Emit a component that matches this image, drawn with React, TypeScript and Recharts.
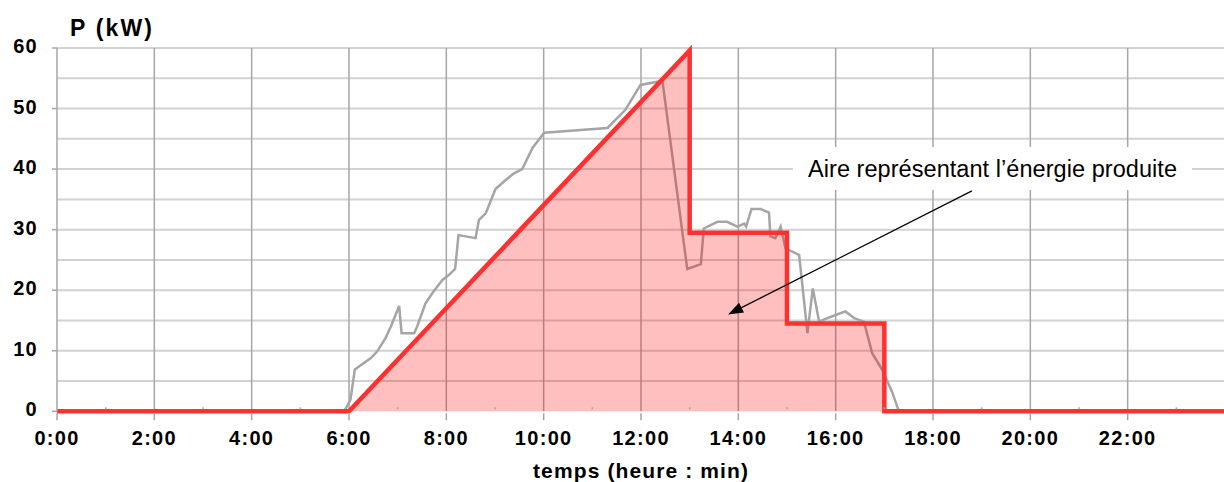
import React from 'react';
import { ComposedChart, Area, XAxis, YAxis, CartesianGrid, ReferenceLine } from 'recharts';

// Measured power (grey curve): hours and kW
const grayHours = [5.9, 6.03, 6.12, 6.24, 6.45, 6.58, 6.75, 6.86, 7.03, 7.08, 7.34, 7.4, 7.57, 7.71, 7.92, 8.05, 8.18, 8.25, 8.6, 8.67, 8.81, 9.01, 9.22, 9.39, 9.56, 9.77, 10.01, 11.31, 11.68, 11.99, 12.44, 12.95, 13.23, 13.29, 13.57, 13.77, 13.98, 14.12, 14.16, 14.27, 14.46, 14.63, 14.66, 14.76, 14.87, 14.97, 15.25, 15.42, 15.53, 15.66, 15.83, 16.0, 16.2, 16.38, 16.58, 16.75, 16.96, 17.16, 17.3];
const grayPower = [0, 1.9, 6.9, 7.6, 8.8, 9.9, 12.1, 14.0, 17.4, 12.9, 12.9, 14.0, 17.8, 19.5, 21.7, 22.5, 23.5, 29.1, 28.6, 31.6, 32.7, 36.7, 38.2, 39.3, 40.0, 43.5, 46.0, 46.8, 49.8, 53.9, 54.6, 23.5, 24.3, 30.2, 31.3, 31.3, 30.5, 31.0, 30.5, 33.4, 33.4, 32.8, 28.9, 28.6, 30.5, 26.9, 25.8, 12.9, 20.3, 14.8, 15.4, 15.9, 16.5, 15.4, 14.8, 9.6, 6.8, 3.2, 0];

// Model (red area)
const redHours = [0, 6, 13, 13, 15, 15, 17, 17, 24];
const redPower = [0, 0, 59.6, 29.5, 29.5, 14.5, 14.5, 0, 0];

const hourTicks = [0, 1, 2, 3, 4, 5, 6, 7, 8, 9, 10, 11, 12, 13, 14, 15, 16, 17, 18, 19, 20, 21, 22, 23];
const xTickLabels = ['0:00', '2:00', '4:00', '6:00', '8:00', '10:00', '12:00', '14:00', '16:00', '18:00', '20:00', '22:00'];
const majorHours = [2, 4, 6, 8, 10, 12, 14, 16, 18, 20, 22];
const yTicks = [0, 10, 20, 30, 40, 50, 60];
const yGrid = [5, 10, 15, 20, 25, 30, 35, 40, 45, 50, 55, 60];

// annotation arrow (data coordinates)
const arrowFrom = { x: 18.8, y: 36.4 };
const arrowTo = { x: 13.79, y: 16.0 };

const grayData = grayHours.map((t, i) => ({ t, p: grayPower[i] }));
const redData = redHours.map((t, i) => ({ t, p: redPower[i] }));

const FONT = '"Liberation Sans", Arial, sans-serif';
const AXIS_GREY = '#a6a6a6';

const XTick = (props: any) => {
  const { x, y, payload } = props;
  const h = payload.value as number;
  const even = h % 2 === 0;
  return (
    <g>
      {even ? (
        <line x1={x} x2={x} y1={y + 2} y2={y + 9} stroke={AXIS_GREY} strokeWidth={1.5} />
      ) : (
        <line x1={x} x2={x} y1={y - 4} y2={y - 2} stroke={AXIS_GREY} strokeWidth={1.5} />
      )}
      {even && (
        <text
          x={x}
          y={y + 33.7}
          textAnchor="middle"
          fontFamily={FONT}
          fontWeight="bold"
          fontSize={20}
          letterSpacing={1.3}
          fill="#000"
        >
          {xTickLabels[h / 2]}
        </text>
      )}
    </g>
  );
};

const YTick = (props: any) => {
  const { x, y, payload } = props;
  return (
    <text
      x={x}
      y={y + 5}
      textAnchor="end"
      fontFamily={FONT}
      fontWeight="bold"
      fontSize={20}
      letterSpacing={1.3}
      fill="#000"
    >
      {payload.value}
    </text>
  );
};

const ArrowShape = (props: any) => {
  const { x1, y1, x2, y2 } = props;
  if ([x1, y1, x2, y2].some((v) => typeof v !== 'number')) return null;
  const dx = x2 - x1;
  const dy = y2 - y1;
  const len = Math.sqrt(dx * dx + dy * dy);
  const ux = dx / len;
  const uy = dy / len;
  const hl = 15;
  const hw = 5.5;
  const bx = x2 - ux * hl;
  const by = y2 - uy * hl;
  const p1 = `${bx - uy * hw},${by + ux * hw}`;
  const p2 = `${bx + uy * hw},${by - ux * hw}`;
  return (
    <g>
      <line x1={x1} y1={y1} x2={bx} y2={by} stroke="#000" strokeWidth={1.2} />
      <polygon points={`${x2},${y2} ${p1} ${p2}`} fill="#000" />
    </g>
  );
};

export default function App() {
  return (
    <div style={{ position: 'absolute', left: 0, top: 0, width: 1224, height: 482, overflow: 'hidden', background: '#fff' }}>
      <ComposedChart width={1226} height={482} margin={{ top: 48, right: 1, bottom: 40.7, left: 0 }}>
        <CartesianGrid horizontalValues={yGrid} vertical={false} stroke="#d2d2d2" strokeWidth={2} />
        <CartesianGrid verticalValues={majorHours} horizontal={false} stroke={AXIS_GREY} strokeWidth={1.5} />
        <XAxis
          dataKey="t"
          type="number"
          domain={[0, 24]}
          ticks={hourTicks}
          interval={0}
          tick={<XTick />}
          tickLine={false}
          tickSize={0}
          tickMargin={0}
          axisLine={false}
          height={30}
        />
        <YAxis
          type="number"
          domain={[0, 60]}
          ticks={yTicks}
          interval={0}
          width={57}
          tickSize={5}
          tickMargin={14}
          tickLine={{ stroke: AXIS_GREY, strokeWidth: 1.5 }}
          axisLine={{ stroke: AXIS_GREY, strokeWidth: 1.5 }}
          tick={<YTick />}
        />
        <Area
          data={grayData}
          dataKey="p"
          type="linear"
          stroke="#a5a5a5"
          strokeWidth={2.5}
          fill="none"
          dot={false}
          activeDot={false}
          baseValue={0}
          isAnimationActive={false}
        />
        <Area
          data={redData}
          dataKey="p"
          type="linear"
          stroke="#ff3030"
          strokeWidth={4.5}
          fill="#ff0000"
          fillOpacity={0.25}
          dot={false}
          activeDot={false}
          baseValue={0}
          isAnimationActive={false}
        />
        <ReferenceLine segment={[arrowFrom, arrowTo]} shape={<ArrowShape />} />
      </ComposedChart>
      <svg width={1224} height={482} style={{ position: 'absolute', left: 0, top: 0, pointerEvents: 'none' }}>
        <text x={70} y={36} fontFamily={FONT} fontWeight="bold" fontSize={23} textLength={82} lengthAdjust="spacing" fill="#000">
          P (kW)
        </text>
        <text x={533} y={478} fontFamily={FONT} fontWeight="bold" fontSize={21} textLength={215} lengthAdjust="spacing" fill="#000">
          temps (heure : min)
        </text>
        <rect x={793} y={147} width={399} height={43} fill="#fff" />
        <text x={808} y={176.7} fontFamily={FONT} fontSize={23.5} textLength={369} lengthAdjust="spacing" fill="#000">
          Aire représentant l’énergie produite
        </text>
      </svg>
    </div>
  );
}
